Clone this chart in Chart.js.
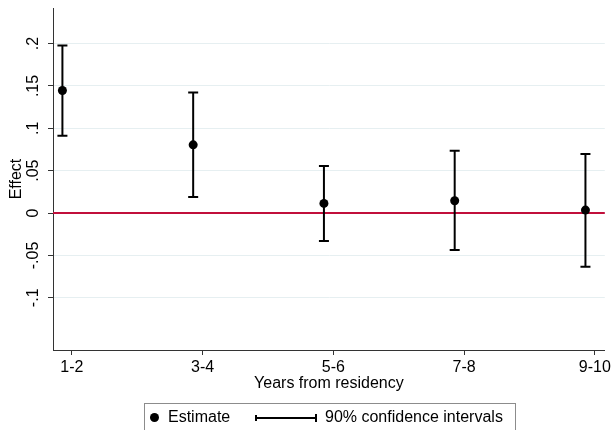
<!DOCTYPE html>
<html>
<head>
<meta charset="utf-8">
<script src="https://cdn.jsdelivr.net/npm/chart.js@4.4.1/dist/chart.umd.min.js"></script>
<style>
  html, body { margin: 0; padding: 0; background: #fff; }
  #wrap { position: relative; width: 614px; height: 430px; }
</style>
</head>
<body>
<div id="wrap"><canvas id="effectChart" width="614" height="430"></canvas></div>
<script>
// values
const categories = ['1-2', '3-4', '5-6', '7-8', '9-10'];
const estimates = [0.1446, 0.0805, 0.0114, 0.0145, 0.0035];
const ciLower = [0.0912, 0.0189, -0.0330, -0.0436, -0.0633];
const ciUpper = [0.1976, 0.1422, 0.0554, 0.0735, 0.0696];
const yTickValues = [-0.1, -0.05, 0, 0.05, 0.1, 0.15, 0.2];
const yTickLabels = ['-.1', '-.05', '0', '.05', '.1', '.15', '.2'];

const FONT = 'Liberation Sans, Arial, sans-serif';
const pointShift = -0.072; // estimates sit a little left of each tick
const axisColor = '#333';

const xAt = i => i + 1 + pointShift;

const estPoints = estimates.map((v, i) => ({ x: xAt(i), y: v }));
const ciSegments = [];
const capPoints = [];
categories.forEach((c, i) => {
  ciSegments.push({ x: xAt(i), y: ciLower[i] }, { x: xAt(i), y: ciUpper[i] }, { x: xAt(i), y: null });
  capPoints.push({ x: xAt(i), y: ciLower[i] }, { x: xAt(i), y: ciUpper[i] });
});

const extras = {
  id: 'extras',
  beforeDatasetsDraw(chart) {
    const { ctx, chartArea, scales } = chart;
    const y0 = scales.y.getPixelForValue(0);
    ctx.save();
    ctx.strokeStyle = '#c10f3b';
    ctx.lineWidth = 2;
    ctx.beginPath();
    ctx.moveTo(chartArea.left, y0);
    ctx.lineTo(chartArea.right, y0);
    ctx.stroke();
    ctx.restore();
  },
  afterDraw(chart) {
    const { ctx, scales } = chart;
    const ys = scales.y;
    ctx.save();
    ctx.fillStyle = '#000';
    ctx.font = '16px ' + FONT;
    ctx.textAlign = 'center';
    ctx.textBaseline = 'alphabetic';
    // rotated y tick labels, stata style
    yTickValues.forEach((v, i) => {
      ctx.save();
      ctx.translate(ys.right - 15, ys.getPixelForValue(v));
      ctx.rotate(-Math.PI / 2);
      ctx.fillText(yTickLabels[i], 0, 0);
      ctx.restore();
    });

    // legend box
    ctx.strokeStyle = '#8c8c8c';
    ctx.lineWidth = 1;
    ctx.strokeRect(144.5, 403.5, 371, 40);
    ctx.textAlign = 'left';
    ctx.beginPath();
    ctx.arc(154.5, 417.5, 4.5, 0, Math.PI * 2);
    ctx.fill();
    ctx.fillText('Estimate', 168, 422);

    ctx.strokeStyle = '#000';
    ctx.lineWidth = 2;
    ctx.beginPath();
    ctx.moveTo(255, 418); ctx.lineTo(317, 418);
    ctx.moveTo(256, 415); ctx.lineTo(256, 421);
    ctx.moveTo(316, 414); ctx.lineTo(316, 422);
    ctx.stroke();
    ctx.fillText('90% confidence intervals', 325, 422);
    ctx.restore();
  }
};

new Chart(document.getElementById('effectChart'), {
  type: 'line',
  data: {
    datasets: [
      {
        label: 'Estimate',
        data: estPoints,
        showLine: false,
        pointRadius: 4.5,
        pointBackgroundColor: '#000',
        pointBorderColor: '#000',
        pointBorderWidth: 0
      },
      {
        label: 'caps',
        data: capPoints,
        showLine: false,
        pointStyle: 'line',
        pointRadius: 5,
        pointBorderColor: '#000',
        pointBorderWidth: 2
      },
      {
        label: '90% confidence intervals',
        data: ciSegments,
        borderColor: '#000',
        borderWidth: 2,
        pointRadius: 0,
        spanGaps: false,
        tension: 0
      }
    ]
  },
  options: {
    responsive: false,
    animation: false,
    events: [],
    layout: { padding: { top: 8, right: 6, bottom: 30, left: 0 } },
    plugins: { legend: { display: false }, tooltip: { enabled: false } },
    scales: {
      x: {
        type: 'linear',
        min: 0.856,
        max: 5.076,
        afterBuildTicks: scale => { scale.ticks = categories.map((c, i) => ({ value: i + 1 })); },
        afterFit: scale => { scale.height = 50; },
        grid: { drawOnChartArea: false, drawTicks: true, tickLength: 5, tickColor: axisColor },
        border: { display: true, color: axisColor, width: 1 },
        ticks: {
          color: '#000',
          font: { family: FONT, size: 16 },
          padding: 3,
          maxRotation: 0,
          autoSkip: false,
          callback: value => categories[Math.round(value) - 1]
        },
        title: {
          display: true,
          text: 'Years from residency',
          color: '#000',
          font: { family: FONT, size: 16 },
          padding: { top: 0, bottom: 7 }
        }
      },
      y: {
        type: 'linear',
        min: -0.1616,
        max: 0.242,
        afterBuildTicks: scale => { scale.ticks = yTickValues.map(v => ({ value: v })); },
        afterFit: scale => { scale.width = 53; },
        grid: { color: '#e6eff1', lineWidth: 1, drawTicks: true, tickLength: 5, tickColor: axisColor },
        border: { display: true, color: axisColor, width: 1 },
        ticks: { display: false },
        title: {
          display: true,
          text: 'Effect',
          color: '#000',
          font: { family: FONT, size: 16 },
          padding: { top: 7, bottom: 0 }
        }
      }
    }
  },
  plugins: [extras]
});
</script>
</body>
</html>
